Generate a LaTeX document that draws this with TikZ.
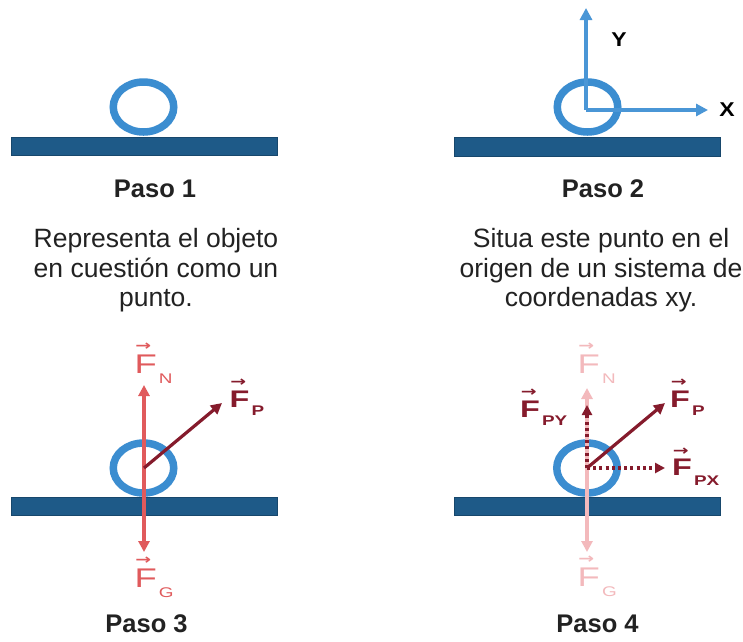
\documentclass[tikz,border=0pt]{standalone}
\usepackage{fontspec}
\usepackage{graphicx}
\setmainfont{Liberation Sans}
\newfontfamily\arrowfont{DejaVu Sans}
\usetikzlibrary{arrows.meta}
\definecolor{barblue}{HTML}{1E5A88}
\definecolor{barline}{HTML}{17476C}
\definecolor{ringblue}{HTML}{3B8DD0}
\definecolor{axisblue}{HTML}{4A96D6}
\definecolor{redF}{HTML}{E05A5C}
\definecolor{darkF}{HTML}{851B2C}
\definecolor{paleF}{HTML}{F3B9BC}
\definecolor{txt}{HTML}{222222}
\newcommand\vecF[1][23pt]{\makebox[0pt][l]{\hspace{0.5pt}\raisebox{#1}{\arrowfont\bfseries\fontsize{14}{14}\selectfont →}}F}
\newcommand\fsub[2][-10pt]{\kern1.5pt\raisebox{#1}{\fontsize{14}{14}\selectfont #2}}
\tikzset{
  bar/.style={fill=barblue, draw=barline, line width=0.8pt},
  ring/.style={draw=ringblue, line width=7.5pt},
  axis/.style={draw=axisblue, line width=3.2pt, -{Triangle[length=12pt,width=12pt]}},
  redarrow/.style={draw=redF, line width=3.2pt, -{Triangle[length=11pt,width=11pt]}},
  palearrow/.style={draw=paleF, line width=3.2pt, -{Triangle[length=11pt,width=11pt]}},
  darkarrow/.style={draw=darkF, line width=3.2pt, -{Triangle[length=11pt,width=11pt]}},
  dotarrow/.style={draw=darkF, line width=3.2pt, dash pattern=on 3pt off 3.2pt, -{Triangle[length=10pt,width=10pt]}},
  paso/.style={anchor=base, inner sep=0pt, text=txt, font=\fontsize{25.5}{30}\selectfont\bfseries},
  desc/.style={anchor=base, inner sep=0pt, text=txt, font=\fontsize{26.5}{30}\selectfont},
  flab/.style={anchor=base west, inner sep=0pt, font=\fontsize{27}{27}\selectfont},
  flabb/.style={anchor=base west, inner sep=0pt, font=\fontsize{24}{24}\selectfont\bfseries, text=darkF},
  axlab/.style={anchor=center, inner sep=0pt, text=black, font=\fontsize{20}{20}\selectfont\bfseries}
}
\begin{document}
\begin{tikzpicture}[x=1pt,y=-1pt]
\useasboundingbox (0,0) rectangle (743,641);
\fill[white] (0,0) rectangle (743,641);

% ---------- Panel 1 ----------
\path[bar] (11,137) rectangle (277,155);
\coordinate (c1) at (143.5,107);
\draw[ring] (c1) ellipse [x radius=30.25pt, y radius=25pt];
\node[paso] (paso1) at (155,197) {Paso 1};
\node[desc] (d1a) at (156,247) {Representa el objeto};
\node[desc] (d1b) at (156,277) {en cuestión como un};
\node[desc] (d1c) at (156,306) {punto.};

% ---------- Panel 2 ----------
\path[bar] (454,137) rectangle (720,156);
\coordinate (c2) at (587.5,107);
\draw[ring] (c2) ellipse [x radius=30.25pt, y radius=25pt];
\coordinate (o2) at (586,110);
\coordinate (ytip) at (586,8);
\coordinate (xtip) at (708,110);
\draw[axis] (o2) -- (ytip);
\draw[axis] (o2) -- (xtip);
\node[axlab] (ylab) at (619,40) {\scalebox{1.15}[1]{Y}};
\node[axlab] (xlab) at (727,110) {\scalebox{1.15}[1]{X}};
\node[paso] (paso2) at (603,197) {Paso 2};
\node[desc] (d2a) at (601,247) {Situa este punto en el};
\node[desc] (d2b) at (601,277) {origen de un sistema de};
\node[desc] (d2c) at (601,306) {coordenadas xy.};

% ---------- Panel 3 ----------
\path[bar] (11,497) rectangle (277,515);
\coordinate (c3) at (143.5,468);
\draw[ring] (c3) ellipse [x radius=30.25pt, y radius=25pt];
\coordinate (n3) at (144,385);
\coordinate (g3) at (144,552);
\coordinate (p3) at (222,403);
\draw[redarrow] (144,468) -- (n3);
\draw[redarrow] (144,468) -- (g3);
\draw[darkarrow] (144,468) -- (p3);
\node[flab, text=redF] (fn3) at (134.5,373) {\scalebox{1.35}[1]{\vecF\fsub{N}}};
\node[flab, text=redF] (fg3) at (134.5,587) {\scalebox{1.35}[1]{\vecF\fsub{G}}};
\node[flabb] (fp3) at (229.5,407) {\scalebox{1.35}[1]{\vecF[21pt]\fsub[-8pt]{P}}};
\node[paso] (paso3) at (146.5,632) {Paso 3};

% ---------- Panel 4 ----------
\path[bar] (454,497) rectangle (720,515);
\coordinate (c4) at (587,468);
\draw[ring] (c4) ellipse [x radius=30.25pt, y radius=25pt];
\coordinate (o4) at (587,468);
\coordinate (n4) at (587,388);
\coordinate (g4) at (587,552);
\coordinate (py4) at (587,405);
\coordinate (px4) at (665,468);
\coordinate (p4) at (665,403);
\draw[palearrow] (o4) -- (n4);
\draw[palearrow] (o4) -- (g4);
\draw[dotarrow] (o4) -- (py4);
\draw[dotarrow] (o4) -- (px4);
\draw[darkarrow] (o4) -- (p4);
\node[flab, text=paleF] (fn4) at (577.5,373) {\scalebox{1.35}[1]{\vecF\fsub{N}}};
\node[flab, text=paleF] (fg4) at (577.5,586) {\scalebox{1.35}[1]{\vecF\fsub{G}}};
\node[flabb] (fpy4) at (520,417) {\scalebox{1.35}[1]{\vecF[21pt]\fsub[-8pt]{PY}}};
\node[flabb] (fp4) at (670,407) {\scalebox{1.35}[1]{\vecF[21pt]\fsub[-8pt]{P}}};
\node[flabb] (fpx4) at (672,475) {\scalebox{1.35}[1]{\vecF[20pt]\fsub[-10pt]{PX}}};
\node[paso] (paso4) at (597.5,632) {Paso 4};
\end{tikzpicture}
\end{document}
